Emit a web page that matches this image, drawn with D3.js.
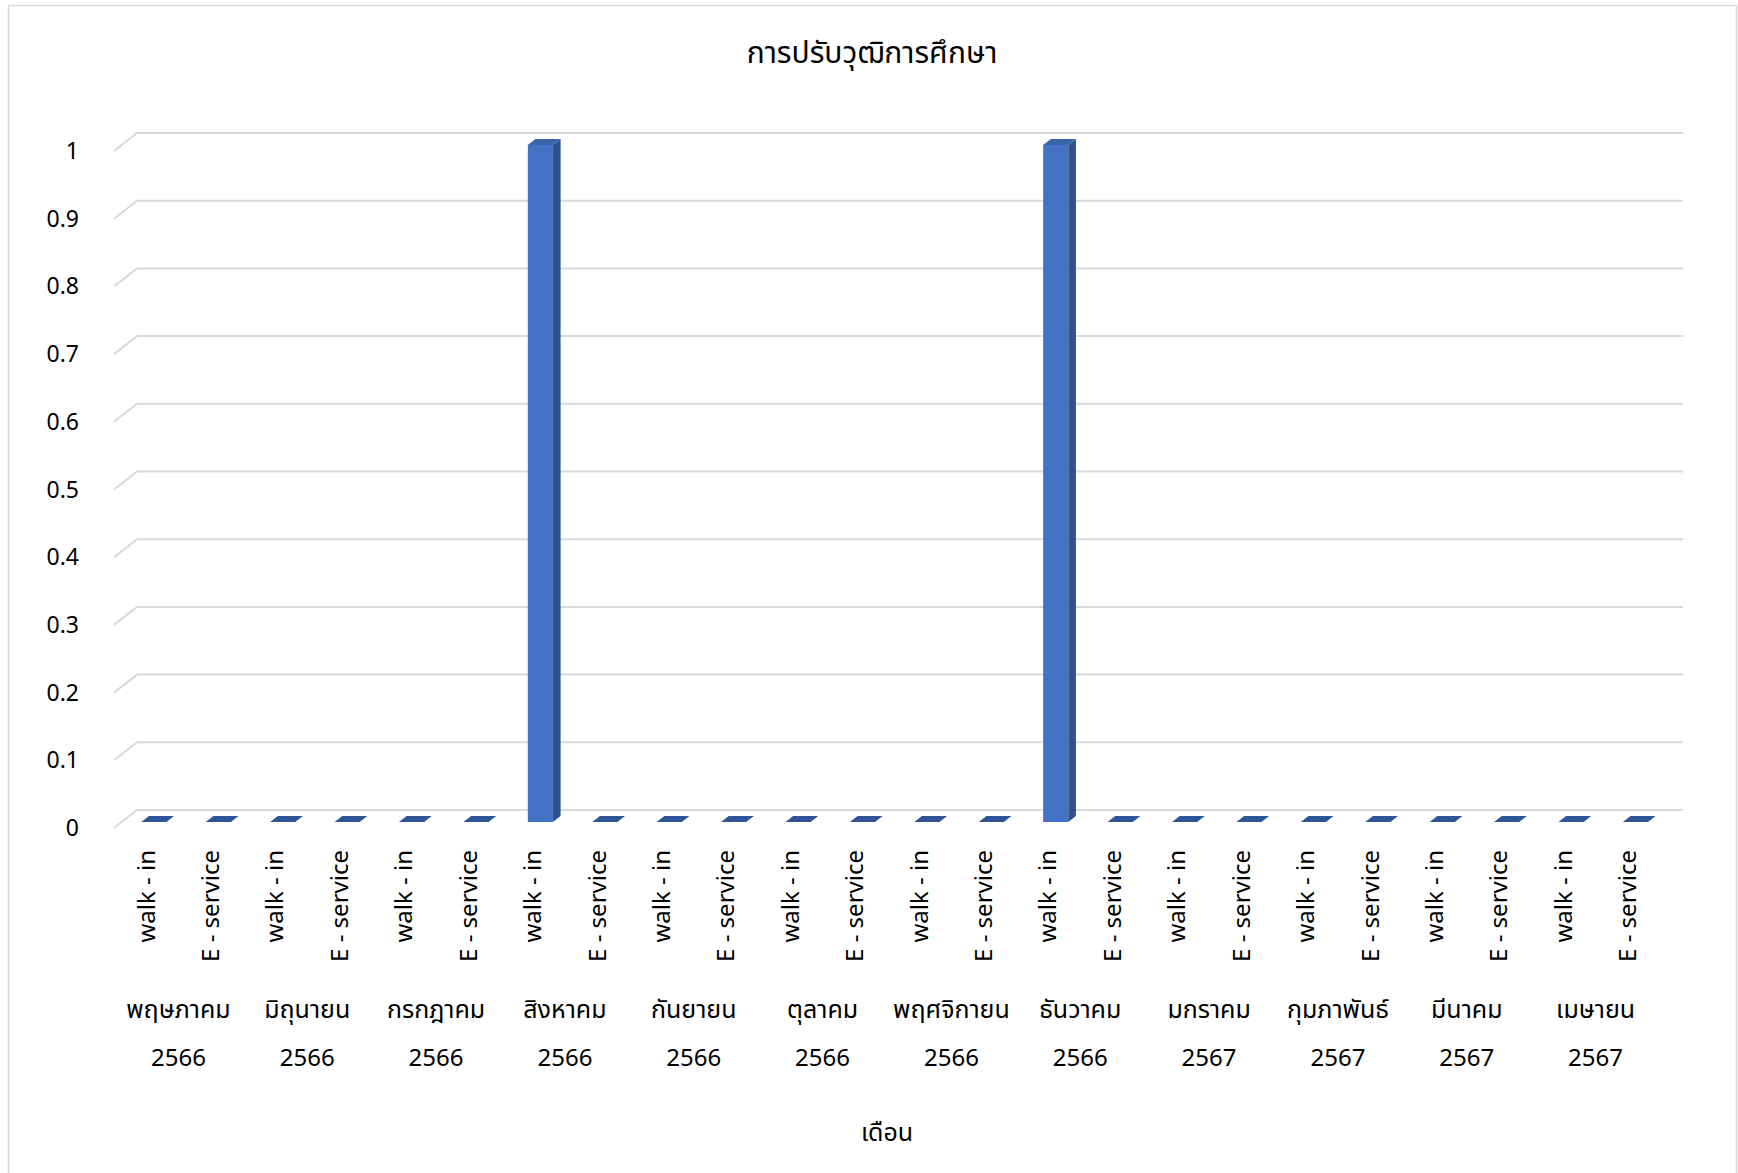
<!DOCTYPE html>
<html>
<head>
<meta charset="utf-8">
<script src="https://cdn.jsdelivr.net/npm/d3@7"></script>
<style>
  body { margin: 0; background: #fff; }
  svg text { font-family: "Segoe UI", "Leelawadee UI", "Noto Sans Thai", "Noto Sans", "DejaVu Sans", sans-serif; fill: #000; }
</style>
</head>
<body>
<svg id="viz"></svg>
<script>
// ----------------------- DATA
const title = 'การปรับวุฒิการศึกษา';
const axisTitle = 'เดือน';
const channels = ['walk - in', 'E - service'];
const months = ['พฤษภาคม', 'มิถุนายน', 'กรกฎาคม', 'สิงหาคม', 'กันยายน', 'ตุลาคม',
  'พฤศจิกายน', 'ธันวาคม', 'มกราคม', 'กุมภาพันธ์', 'มีนาคม', 'เมษายน'];
const years = ['2566', '2566', '2566', '2566', '2566', '2566',
  '2566', '2566', '2567', '2567', '2567', '2567'];
// walk-in / E-service counts per month
const walkIn   = [0, 0, 0, 1, 0, 0, 0, 1, 0, 0, 0, 0];
const eService = [0, 0, 0, 0, 0, 0, 0, 0, 0, 0, 0, 0];
const yTicks = [0, 0.1, 0.2, 0.3, 0.4, 0.5, 0.6, 0.7, 0.8, 0.9, 1];

// flatten to one row per bar
const data = [];
months.forEach((m, i) => {
  data.push({ key: i * 2, month: m, channel: channels[0], value: walkIn[i] });
  data.push({ key: i * 2 + 1, month: m, channel: channels[1], value: eService[i] });
});

// ----------------------- SETTINGS
const W = 1738, H = 1173;
const depth = { dx: 23, dy: -18 };   // 3d depth of the plot box
const front = { left: 114, right: 1660, top: 151, bottom: 828 };

const svg = d3.select('#viz').attr('width', W).attr('height', H);

svg.append('rect')
  .attr('x', 8.5).attr('y', 5.5)
  .attr('width', 1728).attr('height', 1180)
  .attr('fill', '#fff').attr('stroke', '#d9d9d9').attr('stroke-width', 1.5);

const x = d3.scaleBand()
  .domain(data.map(d => d.key))
  .range([front.left, front.right]);

const y = d3.scaleLinear()
  .domain([0, 1])
  .range([front.bottom, front.top]);

// ----------------------- GRID (side diagonal + back wall line)
const grid = svg.append('g').attr('class', 'grid');
grid.selectAll('path')
  .data(yTicks)
  .enter().append('path')
  .attr('d', t => `M${front.left},${y(t)} L${front.left + depth.dx},${y(t) + depth.dy} L${front.right + depth.dx},${y(t) + depth.dy}`)
  .attr('fill', 'none')
  .attr('stroke', '#d9d9d9')
  .attr('stroke-width', 2);

// y tick labels
svg.append('g').selectAll('text')
  .data(yTicks)
  .enter().append('text')
  .attr('x', 79)
  .attr('y', t => y(t))
  .attr('dy', '0.35em')
  .attr('text-anchor', 'end')
  .style('font-size', '23px')
  .text(t => d3.format('~g')(t));

// ----------------------- BARS
const bw = x.bandwidth() * 0.39;
const z0 = 1 / 3, z1 = 2 / 3;   // bar sits in the middle third of depth
const bars = svg.append('g').attr('class', 'bars');

data.forEach(d => {
  const cx = x(d.key) + x.bandwidth() / 2;
  const fx = cx - bw / 2 + depth.dx * z0;       // front face left
  const fy0 = y(0) + depth.dy * z0;
  const fy1 = y(d.value) + depth.dy * z0;
  const ddx = depth.dx * (z1 - z0), ddy = depth.dy * (z1 - z0);
  const g = bars.append('g');
  if (d.value > 0) {
    // side face
    g.append('path')
      .attr('d', `M${fx + bw},${fy0} L${fx + bw + ddx},${fy0 + ddy} L${fx + bw + ddx},${fy1 + ddy} L${fx + bw},${fy1} Z`)
      .attr('fill', '#2f528f');
    // front face
    g.append('rect')
      .attr('x', fx).attr('y', fy1)
      .attr('width', bw).attr('height', fy0 - fy1)
      .attr('fill', '#4472c4');
  }
  // top face
  g.append('path')
    .attr('d', `M${fx},${fy1} L${fx + bw},${fy1} L${fx + bw + ddx},${fy1 + ddy} L${fx + ddx},${fy1 + ddy} Z`)
    .attr('fill', d.value > 0 ? '#3a63ad' : '#2f5597');
});

// ----------------------- X LABELS
svg.append('g').selectAll('text')
  .data(data)
  .enter().append('text')
  .attr('transform', d => `translate(${x(d.key) + x.bandwidth() / 2},850) rotate(-90)`)
  .attr('dy', '0.35em')
  .attr('text-anchor', 'end')
  .style('font-size', '24px')
  .text(d => d.channel);

const monthG = svg.append('g').selectAll('text')
  .data(months)
  .enter().append('text')
  .attr('text-anchor', 'middle')
  .style('font-size', '25px');
monthG.append('tspan')
  .attr('x', (m, i) => x(i * 2) + x.bandwidth())
  .attr('y', 1018)
  .text(m => m);
monthG.append('tspan')
  .attr('x', (m, i) => x(i * 2) + x.bandwidth())
  .attr('y', 1066)
  .style('font-size', '24px')
  .text((m, i) => years[i]);

// ----------------------- TITLES
svg.append('text')
  .attr('x', 872).attr('y', 63)
  .attr('text-anchor', 'middle')
  .style('font-size', '30px')
  .text(title);

svg.append('text')
  .attr('x', 887).attr('y', 1141)
  .attr('text-anchor', 'middle')
  .style('font-size', '25px')
  .text(axisTitle);
</script>
</body>
</html>
